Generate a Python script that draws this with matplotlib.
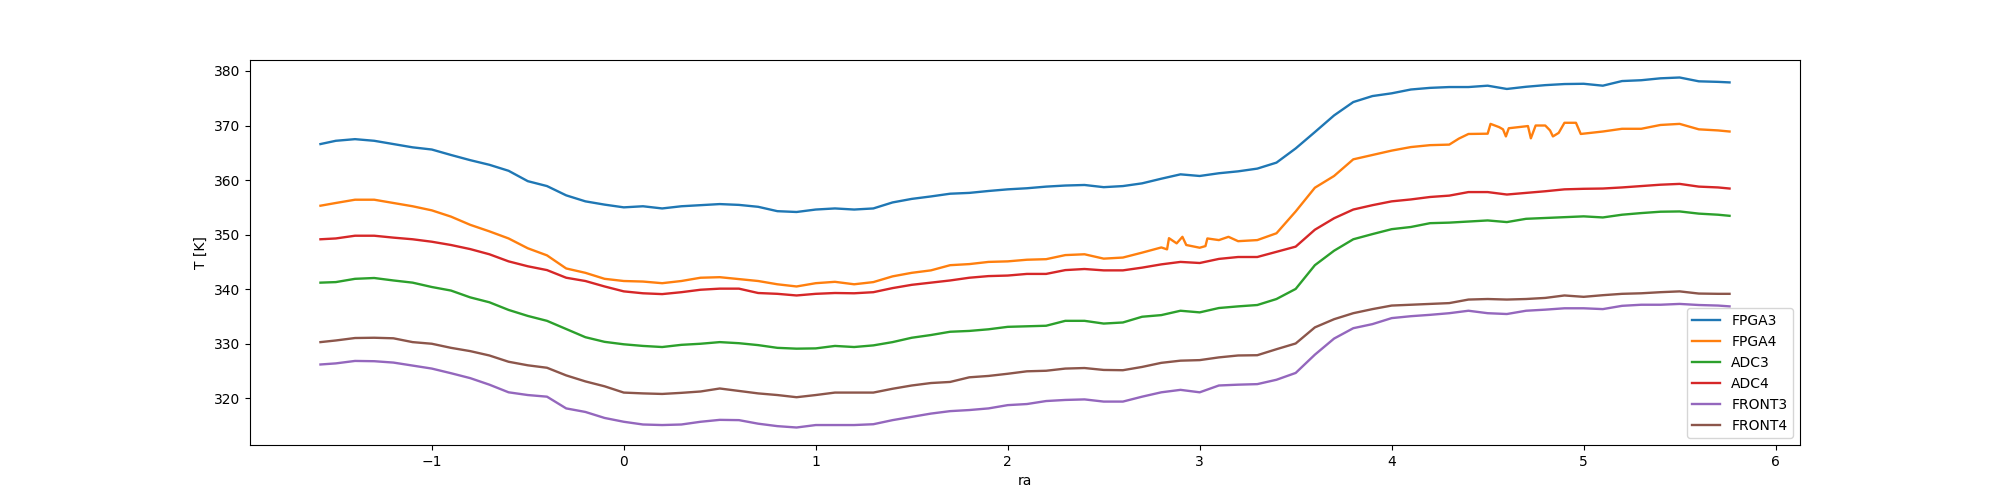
import numpy as np
import matplotlib
matplotlib.use("Agg")
import matplotlib.pyplot as plt

# sample positions (ra) shared by most channels
ra = [-1.58, -1.5, -1.4, -1.3, -1.2, -1.1, -1.0, -0.9, -0.8, -0.7, -0.6,
      -0.5, -0.4, -0.3, -0.2, -0.1, 0.0, 0.1, 0.2, 0.3, 0.4, 0.5, 0.6, 0.7,
      0.8, 0.9, 1.0, 1.1, 1.2, 1.3, 1.4, 1.5, 1.6, 1.7, 1.8, 1.9, 2.0, 2.1,
      2.2, 2.3, 2.4, 2.5, 2.6, 2.7, 2.8, 2.9, 3.0, 3.1, 3.2, 3.3, 3.4, 3.5,
      3.6, 3.7, 3.8, 3.9, 4.0, 4.1, 4.2, 4.3, 4.4, 4.5, 4.6, 4.7, 4.8, 4.9,
      5.0, 5.1, 5.2, 5.3, 5.4, 5.5, 5.6, 5.7, 5.76]

fpga3 = [366.6, 367.2, 367.5, 367.2, 366.6, 366.0, 365.6, 364.6, 363.65, 362.8,
         361.7, 359.8, 358.9, 357.2, 356.1, 355.5, 355.0, 355.2, 354.8, 355.2,
         355.4, 355.6, 355.45, 355.1, 354.3, 354.15, 354.6, 354.8, 354.6, 354.8,
         355.9, 356.55, 357.0, 357.5, 357.65, 358.0, 358.3, 358.5, 358.8, 359.0,
         359.1, 358.7, 358.9, 359.4, 360.25, 361.05, 360.75, 361.25, 361.6, 362.1,
         363.2, 365.8, 368.8, 371.85, 374.3, 375.4, 375.9, 376.6, 376.9, 377.05,
         377.05, 377.3, 376.7, 377.1, 377.4, 377.6, 377.65, 377.3, 378.15, 378.3,
         378.65, 378.8, 378.1, 378.0, 377.9]

adc3 = [341.2, 341.3, 341.9, 342.05, 341.6, 341.2, 340.4, 339.75, 338.5, 337.6,
        336.2, 335.1, 334.2, 332.7, 331.2, 330.35, 329.9, 329.6, 329.4, 329.8,
        330.0, 330.3, 330.1, 329.75, 329.25, 329.1, 329.15, 329.6, 329.4, 329.7,
        330.3, 331.1, 331.6, 332.2, 332.35, 332.65, 333.1, 333.2, 333.3, 334.2,
        334.2, 333.7, 333.9, 334.95, 335.25, 336.05, 335.75, 336.55, 336.85, 337.1,
        338.2, 340.05, 344.4, 347.05, 349.15, 350.1, 351.0, 351.4, 352.1, 352.2,
        352.4, 352.6, 352.3, 352.9, 353.05, 353.2, 353.35, 353.15, 353.65, 353.95,
        354.2, 354.25, 353.85, 353.65, 353.45]

adc4 = [349.15, 349.3, 349.8, 349.8, 349.45, 349.15, 348.7, 348.1, 347.35, 346.4,
        345.1, 344.2, 343.5, 342.1, 341.5, 340.5, 339.6, 339.25, 339.1, 339.45,
        339.9, 340.1, 340.1, 339.3, 339.15, 338.85, 339.15, 339.3, 339.25, 339.45,
        340.2, 340.8, 341.2, 341.6, 342.1, 342.4, 342.5, 342.8, 342.8, 343.5,
        343.7, 343.45, 343.45, 343.95, 344.55, 345.0, 344.8, 345.55, 345.9, 345.9,
        346.85, 347.8, 350.9, 353.0, 354.6, 355.4, 356.1, 356.45, 356.9, 357.15,
        357.8, 357.8, 357.35, 357.65, 357.95, 358.3, 358.4, 358.45, 358.65, 358.9,
        359.15, 359.3, 358.8, 358.65, 358.45]

front3 = [326.2, 326.4, 326.85, 326.8, 326.55, 326.0, 325.45, 324.6, 323.7, 322.5,
          321.1, 320.6, 320.3, 318.15, 317.5, 316.4, 315.7, 315.2, 315.1, 315.2,
          315.7, 316.05, 316.0, 315.35, 314.9, 314.65, 315.1, 315.1, 315.1, 315.25,
          316.0, 316.6, 317.2, 317.65, 317.85, 318.15, 318.75, 318.95, 319.5, 319.7,
          319.8, 319.4, 319.4, 320.3, 321.1, 321.55, 321.1, 322.35, 322.5, 322.6,
          323.4, 324.65, 328.0, 330.95, 332.85, 333.6, 334.7, 335.05, 335.3, 335.6,
          336.05, 335.6, 335.45, 336.05, 336.25, 336.5, 336.5, 336.35, 336.95, 337.15,
          337.15, 337.3, 337.1, 337.0, 336.85]

front4 = [330.3, 330.6, 331.05, 331.1, 331.0, 330.3, 330.0, 329.25, 328.65, 327.85,
          326.7, 326.05, 325.6, 324.2, 323.1, 322.2, 321.05, 320.9, 320.8, 321.0,
          321.25, 321.8, 321.35, 320.9, 320.6, 320.2, 320.6, 321.05, 321.05, 321.05,
          321.75, 322.35, 322.8, 323.0, 323.85, 324.1, 324.5, 324.95, 325.05, 325.45,
          325.55, 325.2, 325.15, 325.75, 326.5, 326.9, 327.0, 327.5, 327.85, 327.9,
          329.0, 330.05, 333.0, 334.5, 335.6, 336.35, 337.0, 337.15, 337.3, 337.45,
          338.1, 338.2, 338.1, 338.2, 338.4, 338.85, 338.6, 338.9, 339.15, 339.25,
          339.45, 339.6, 339.2, 339.15, 339.15]

# FPGA4 has its own sampling to keep the step-like jumps
ra_fpga4 = [-1.58, -1.5, -1.4, -1.3, -1.2, -1.1, -1.0, -0.9, -0.8, -0.7, -0.6,
            -0.5, -0.4, -0.3, -0.2, -0.1, 0.0, 0.1, 0.2, 0.3, 0.4, 0.5, 0.6,
            0.7, 0.8, 0.9, 1.0, 1.1, 1.2, 1.3, 1.4, 1.5, 1.6, 1.7, 1.8, 1.9,
            2.0, 2.1, 2.2, 2.3, 2.4, 2.5, 2.6, 2.7, 2.8, 2.83, 2.84, 2.88, 2.91,
            2.93, 3.0, 3.03, 3.04, 3.1, 3.15, 3.2, 3.3, 3.4, 3.5, 3.6, 3.7, 3.8,
            3.9, 4.0, 4.1, 4.2, 4.3, 4.35, 4.4, 4.5, 4.515, 4.56, 4.58, 4.595,
            4.61, 4.71, 4.725, 4.75, 4.8, 4.825, 4.84, 4.87, 4.9, 4.96, 4.985,
            5.1, 5.2, 5.3, 5.4, 5.5, 5.6, 5.7, 5.76]

fpga4 = [355.3, 355.8, 356.4, 356.4, 355.8, 355.2, 354.45, 353.3, 351.8, 350.6,
         349.3, 347.5, 346.2, 343.8, 343.0, 341.9, 341.5, 341.4, 341.1, 341.5,
         342.1, 342.2, 341.85, 341.5, 340.9, 340.5, 341.1, 341.35, 340.9, 341.3,
         342.35, 343.0, 343.45, 344.4, 344.6, 345.0, 345.1, 345.4, 345.5, 346.25,
         346.4, 345.6, 345.8, 346.7, 347.65, 347.3, 349.35, 348.4, 349.6,
         348.1, 347.6, 347.9, 349.3, 349.0, 349.6, 348.8, 349.0, 350.25, 354.25,
         358.6, 360.75, 363.8, 364.6, 365.4, 366.05, 366.4, 366.5, 367.6, 368.45,
         368.5, 370.3, 369.7, 369.3, 368.0, 369.5, 369.9, 367.65, 370.0, 370.0,
         369.1, 368.0, 368.65, 370.5, 370.5, 368.45, 368.9, 369.4, 369.4, 370.1,
         370.3, 369.3, 369.1, 368.9]

plt.figure(figsize=(20, 5))
ax = plt.subplot(111)
lw = 1.7
ax.plot(ra, fpga3, lw=lw, label="FPGA3")
ax.plot(ra_fpga4, fpga4, lw=lw, label="FPGA4")
ax.plot(ra, adc3, lw=lw, label="ADC3")
ax.plot(ra, adc4, lw=lw, label="ADC4")
ax.plot(ra, front3, lw=lw, label="FRONT3")
ax.plot(ra, front4, lw=lw, label="FRONT4")
ax.set_xlabel("ra")
ax.set_ylabel("T [K]")
ax.legend(loc="lower right")
plt.savefig("out.png", dpi=100)
